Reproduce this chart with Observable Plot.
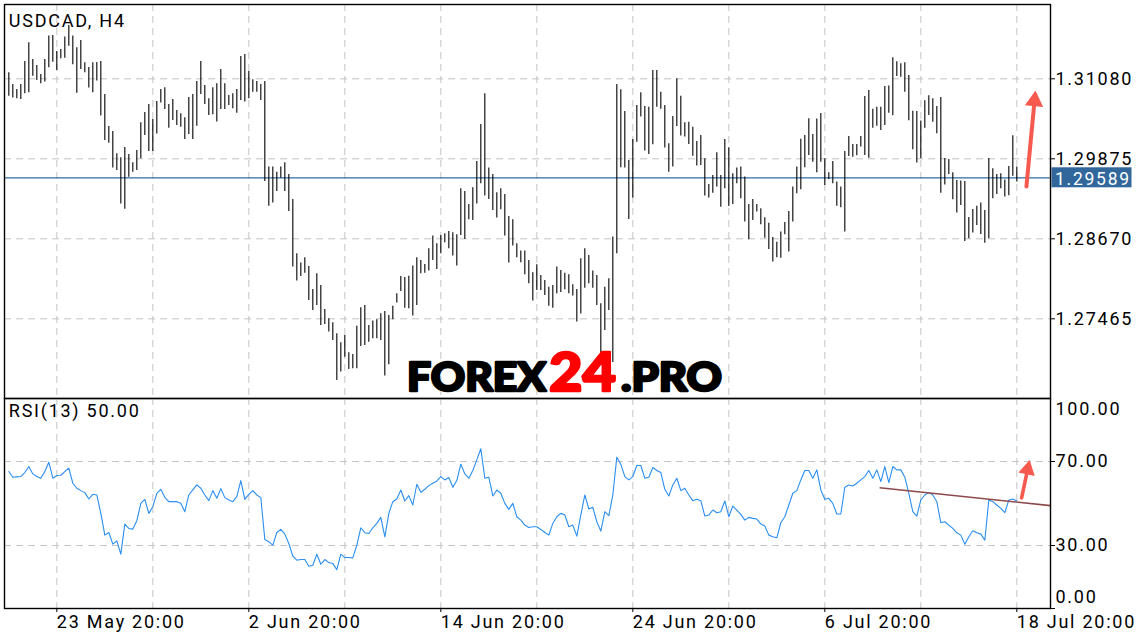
<!DOCTYPE html>
<html><head><meta charset="utf-8">
<script src="https://cdn.jsdelivr.net/npm/d3@7"></script>
<script src="https://cdn.jsdelivr.net/npm/@observablehq/plot@0.6"></script>
<style>
html,body{margin:0;padding:0;background:#fff;overflow:hidden;}
#chart{position:relative;width:1136px;height:640px;}
#chart svg{position:absolute;left:0;}
</style></head><body><div id="chart"></div>
<script>
const symbolName = "USDCAD, H4";
const rsiTitle = "RSI(13) 50.00";
const highs = [
1.31170,1.30995,1.30919,1.30995,1.31341,1.31622,1.31371,1.31281,1.31145,1.31371,
1.31723,1.31733,1.31492,1.31522,1.31708,1.31883,1.31723,1.31547,1.31657,1.31321,
1.31251,1.31321,1.31326,1.31341,1.30844,1.30362,1.30287,1.29951,1.29890,1.30046,
1.29941,1.29815,1.30001,1.30417,1.30573,1.30694,1.30468,1.30739,1.30919,1.30945,
1.30694,1.30769,1.30603,1.30553,1.30493,1.30799,1.30844,1.31040,1.31341,1.30980,
1.30779,1.30945,1.31005,1.31221,1.31005,1.30829,1.30854,1.30919,1.31416,1.31447,
1.31191,1.31065,1.31040,1.30995,1.31040,1.29750,1.29750,1.29674,1.29750,1.29815,
1.29639,1.29263,1.28445,1.28304,1.28384,1.28254,1.27907,1.28143,1.27968,1.27606,
1.27466,1.27405,1.27240,1.27104,1.27215,1.26954,1.26929,1.27355,1.27631,1.27667,
1.27365,1.27431,1.27451,1.27541,1.27576,1.27516,1.27656,1.27842,1.28103,1.28088,
1.28108,1.28259,1.28384,1.28344,1.28284,1.28520,1.28711,1.28595,1.28721,1.28746,
1.28781,1.28761,1.28731,1.29424,1.29383,1.29188,1.29439,1.29835,1.30392,1.30854,
1.29735,1.29639,1.29363,1.29424,1.29338,1.29007,1.28957,1.28595,1.28485,1.28485,
1.28344,1.28158,1.28279,1.28118,1.28043,1.27942,1.27968,1.28244,1.28194,1.28153,
1.28128,1.27978,1.27907,1.28369,1.28520,1.28419,1.28184,1.28118,1.27692,1.27942,
1.28068,1.28696,1.30995,1.30914,1.30588,1.29850,1.30166,1.30679,1.30869,1.30663,
1.30653,1.31206,1.31206,1.30879,1.30679,1.30101,1.30513,1.31080,1.30819,1.30417,
1.30427,1.30352,1.30136,1.30227,1.29875,1.29489,1.29624,1.29966,1.29624,1.30166,
1.30041,1.29649,1.29735,1.29750,1.29600,1.29188,1.29263,1.29188,1.29122,1.28987,
1.28906,1.28691,1.28620,1.28771,1.28916,1.29082,1.29449,1.29750,1.30171,1.30227,
1.30478,1.30242,1.30473,1.30558,1.29875,1.29664,1.29835,1.29524,1.29449,1.29986,
1.30212,1.30091,1.30091,1.30212,1.30814,1.30904,1.30623,1.30653,1.30653,1.30965,
1.30970,1.31396,1.31336,1.31306,1.31321,1.31130,1.30593,1.30588,1.30443,1.30749,
1.30824,1.30779,1.30663,1.30799,1.29880,1.29865,1.29664,1.29549,1.29539,1.29534,
1.28992,1.29112,1.29162,1.29208,1.29097,1.29880,1.29725,1.29639,1.29649,1.29554,
1.29760,1.30222,1.29748];
const lows = [
1.30819,1.30789,1.30779,1.30769,1.30854,1.30869,1.31120,1.31055,1.31005,1.31030,
1.31246,1.31331,1.31206,1.31381,1.31391,1.31572,1.31291,1.30864,1.31221,1.31170,
1.30940,1.30869,1.31045,1.30518,1.30152,1.30111,1.29735,1.29700,1.29193,1.29117,
1.29599,1.29674,1.29700,1.29875,1.30227,1.29986,1.29986,1.30247,1.30714,1.30618,
1.30337,1.30453,1.30377,1.30352,1.30166,1.30242,1.30166,1.30367,1.30844,1.30694,
1.30528,1.30538,1.30428,1.30618,1.30618,1.30679,1.30628,1.30563,1.30754,1.30729,
1.30779,1.30879,1.30879,1.30754,1.29534,1.29162,1.29208,1.29383,1.29584,1.29383,
1.29082,1.28244,1.28033,1.28103,1.28153,1.27742,1.27591,1.27667,1.27365,1.27380,
1.27265,1.27139,1.26537,1.26663,1.26888,1.26703,1.26713,1.26713,1.27049,1.27064,
1.27114,1.27165,1.27165,1.27139,1.26602,1.26773,1.27451,1.27702,1.27877,1.27626,
1.27616,1.27506,1.27667,1.28143,1.28153,1.28184,1.28344,1.28209,1.28445,1.28610,
1.28520,1.28410,1.28259,1.28721,1.28660,1.28957,1.28947,1.29193,1.29499,1.29313,
1.29263,1.29097,1.28982,1.29107,1.28711,1.28304,1.28560,1.28384,1.28309,1.28128,
1.27993,1.27732,1.27892,1.27892,1.27817,1.27656,1.27626,1.27842,1.27862,1.27902,
1.27842,1.27807,1.27416,1.27536,1.27927,1.27993,1.27927,1.27667,1.26914,1.27290,
1.27591,1.26808,1.28445,1.29740,1.29735,1.28962,1.29283,1.30126,1.30503,1.29991,
1.29941,1.30086,1.30653,1.30623,1.30036,1.29674,1.29750,1.30362,1.30217,1.30202,
1.30091,1.29915,1.29765,1.29775,1.29313,1.29283,1.29358,1.29449,1.29147,1.29424,
1.29157,1.29188,1.29499,1.29273,1.28922,1.28655,1.28947,1.29072,1.28881,1.28680,
1.28510,1.28319,1.28384,1.28379,1.28731,1.28470,1.28922,1.29348,1.29408,1.29740,
1.29926,1.29825,1.29664,1.29825,1.29474,1.29564,1.29499,1.29162,1.29137,1.28771,
1.29910,1.29900,1.29920,1.30051,1.29926,1.29885,1.30337,1.30367,1.30302,1.30377,
1.30563,1.30523,1.31115,1.31105,1.30879,1.30448,1.30011,1.29810,1.29875,1.30337,
1.30528,1.30427,1.30252,1.29358,1.29479,1.29639,1.29258,1.29057,1.29173,1.28630,
1.28670,1.28756,1.28871,1.28736,1.28605,1.28670,1.29273,1.29338,1.29424,1.29298,
1.29318,1.29614,1.29524];
const rsi = [
65.22,62.51,62.67,62.83,64.74,67.61,64.10,62.83,62.03,65.22,
69.68,62.03,63.30,63.46,65.22,66.81,59.64,57.25,56.13,55.18,
52.15,54.38,54.06,45.30,34.94,36.21,30.64,32.23,25.86,40.20,
38.13,37.81,41.79,50.08,51.99,45.30,48.49,54.86,56.77,52.95,
50.87,50.87,50.87,50.08,46.10,54.06,56.45,58.84,57.25,54.06,
51.35,56.13,52.47,57.09,52.79,51.67,50.87,53.27,60.92,51.99,
54.38,56.13,54.06,52.79,32.87,31.75,30.16,36.21,37.65,35.42,
30.96,24.90,22.99,23.31,23.31,20.12,20.60,25.86,21.07,23.31,
21.87,21.39,18.53,25.86,24.26,24.26,24.10,30.16,38.45,36.06,
35.74,38.45,40.52,43.39,34.14,45.30,50.87,52.15,56.45,51.19,
53.74,49.28,59.16,55.34,56.77,58.52,59.64,60.76,62.83,61.23,
62.35,57.73,60.92,68.72,64.10,62.03,65.70,70.80,76.05,62.03,
62.51,53.59,56.45,54.86,50.08,47.21,50.08,43.70,42.11,39.72,
38.61,38.92,38.92,37.65,36.21,34.94,40.52,43.70,45.30,44.50,
38.92,39.72,34.46,44.50,54.06,47.37,48.17,41.31,36.85,46.10,
44.18,54.06,72.07,68.72,62.83,61.23,62.83,68.09,68.09,62.03,
62.51,67.13,65.70,64.74,56.77,53.59,58.84,62.03,56.13,57.25,
54.06,51.35,51.99,51.35,44.02,44.50,46.89,45.62,46.10,51.19,
43.70,48.80,46.89,44.82,42.11,43.39,42.91,42.59,40.20,39.24,
34.94,34.14,33.66,40.84,43.70,49.28,54.86,56.13,61.23,65.70,
65.70,62.03,66.01,56.45,51.99,52.47,50.08,44.98,44.98,57.73,
58.84,58.36,59.64,61.23,62.83,65.70,62.03,66.01,60.44,67.61,
59.96,67.61,66.01,66.01,62.51,54.86,46.10,44.02,51.67,54.06,
55.18,54.06,50.87,40.84,41.31,39.72,38.13,36.06,34.94,30.64,
34.14,37.01,36.06,35.42,32.55,51.67,50.87,49.28,47.69,45.62,
51.67,52.15,51.19];
const priceTicks = [1.27465, 1.28670, 1.29875, 1.31080];
const currentPrice = 1.29589;
const rsiLevels = [30, 70];
const rsiEdgeTop = [100];
const rsiEdgeBottom = [0];
const gridBars = [13, 37, 61, 85, 109, 133, 157, 181, 205, 229, 253];
const dateTickBars = [13, 61, 109, 157, 205, 253];
const dateLabels = ["23 May 20:00", "2 Jun 20:00", "14 Jun 20:00", "24 Jun 20:00", "6 Jul 20:00", "18 Jul 20:00"];
const rsiTrend = [{x1: 218.7, y1: 57.5, x2: 261.4, y2: 49.0}];
const priceArrow = [{x1: 255.4, y1: 1.29458, x2: 257.42, y2: 1.30746}];
const rsiArrow = [{x1: 254.2, y1: 52.7, x2: 255.7, y2: 66.2}];
const watermark = [["FOREX", "#000"], ["24", "#ff0000"], [".PRO", "#000"]];

const bars = highs.map((h, i) => ({bar: i + 1, high: h, low: lows[i]}));
const rsiPts = rsi.map((v, i) => ({bar: i + 1, v}));

const xDomain = [-0.08, 261.42];
const gridStyle = {stroke: "#c4c4c4", strokeOpacity: 1, strokeDasharray: "7,5"};
const fontStyle = {fontFamily: "Roboto, 'Helvetica Neue', Arial, sans-serif", fontSize: "18px", letterSpacing: "1.75px", background: "transparent", color: "#000"};
const arrowRed = "#f65a4e";
const fmt5 = d3.format(".5f"), fmt2 = d3.format(".2f");

function priceTag(index, scales, values, dims) {
  const y = scales.y(currentPrice);
  const x0 = dims.width - dims.marginRight;
  const g = d3.create("svg:g");
  g.append("rect").attr("x", x0 + 1.5).attr("y", y - 10).attr("width", 80).attr("height", 20).attr("fill", "#31679b");
  g.append("text").attr("x", x0 + 5).attr("y", y).attr("dy", "0.42em").attr("fill", "#fff")
    .attr("font-size", 17.5).attr("text-anchor", "start").text(fmt5(currentPrice));
  return g.node();
}

const main = Plot.plot({
  width: 1136, height: 400, marginLeft: 4, marginRight: 86, marginTop: 4, marginBottom: 2,
  style: fontStyle,
  x: {domain: xDomain, axis: null},
  y: {domain: [1.26265, 1.32199], axis: null},
  marks: [
    Plot.gridX(gridBars, gridStyle),
    Plot.gridY(priceTicks, gridStyle),
    Plot.ruleY([currentPrice], {stroke: "#2f6aa2", strokeWidth: 1.2}),
    Plot.ruleX(bars, {x: "bar", y1: "low", y2: "high", stroke: "#000", strokeWidth: 1.1}),
    Plot.axisY(priceTicks, {anchor: "right", tickSize: 4, tickPadding: 1, tickFormat: fmt5, stroke: "#000"}),
    priceTag,
    Plot.frame({stroke: "#000", strokeWidth: 1.4}),
    Plot.link(priceArrow, {x1: "x1", y1: "y1", x2: "x2", y2: "y2", stroke: arrowRed, strokeWidth: 4, strokeLinecap: "round"}),
    Plot.dot(priceArrow, {x: "x2", y: "y2", symbol: "triangle", r: 6.8, fill: arrowRed, rotate: 5.5}),
    Plot.text([symbolName], {frameAnchor: "top-left", dx: 4.3, dy: 9.3, lineAnchor: "top", textAnchor: "start", text: d => d, fill: "#000"})
  ]
});
main.style.top = "0px";

const rsiPlot = Plot.plot({
  width: 1136, height: 243, marginLeft: 4, marginRight: 86, marginTop: 1, marginBottom: 32,
  style: fontStyle,
  x: {domain: xDomain, axis: null},
  y: {domain: [0, 100], axis: null},
  marks: [
    Plot.gridX(gridBars, gridStyle),
    Plot.gridY(rsiLevels, gridStyle),
    Plot.line(rsiPts, {x: "bar", y: "v", stroke: "#2a8ef0", strokeWidth: 1.1}),
    Plot.link(rsiTrend, {x1: "x1", y1: "y1", x2: "x2", y2: "y2", stroke: "#8e4a4a", strokeWidth: 1.6}),
    Plot.axisY([0, ...rsiLevels], {anchor: "right", tickSize: 4, tickPadding: 1, tickFormat: d => d === 0 ? "" : fmt2(d), stroke: "#000"}),
    Plot.text(rsiEdgeTop, {y: d => d, frameAnchor: "right", dx: 5, dy: 11, textAnchor: "start", text: d => fmt2(d), fill: "#000"}),
    Plot.text(rsiEdgeBottom, {y: d => d, frameAnchor: "right", dx: 5, dy: -11, textAnchor: "start", text: d => fmt2(d), fill: "#000"}),
    Plot.axisX(dateTickBars, {anchor: "bottom", tickSize: 4, tickPadding: 3, textAnchor: "start", tickFormat: d => dateLabels[dateTickBars.indexOf(d)], stroke: "#000"}),
    Plot.frame({stroke: "#000", strokeWidth: 1.4}),
    Plot.link(rsiArrow, {x1: "x1", y1: "y1", x2: "x2", y2: "y2", stroke: arrowRed, strokeWidth: 3.6, strokeLinecap: "round"}),
    Plot.dot(rsiArrow, {x: "x2", y: "y2", symbol: "triangle", r: 6.2, fill: arrowRed, rotate: 12.3}),
    Plot.text([rsiTitle], {frameAnchor: "top-left", dx: 4.3, dy: 5.3, lineAnchor: "top", textAnchor: "start", text: d => d, fill: "#000"})
  ]
});
rsiPlot.style.top = "397px";

const chart = document.getElementById("chart");
chart.appendChild(main);
chart.appendChild(rsiPlot);

// watermark overlay (real text)
const wm = d3.create("svg").attr("width", 1136).attr("height", 640)
  .style("position", "absolute").style("left", "0px").style("top", "0px").style("pointer-events", "none");
const wmText = wm.append("text").attr("font-family", "Lato, 'DejaVu Sans', sans-serif").attr("font-weight", 900).attr("y", 391);
const wmLayout = [{x: 407, len: 139, size: 39}, {x: 549, len: 67, size: 54}, {x: 621, len: 101, size: 39}];
watermark.forEach(([t, c], i) => {
  wmText.append("tspan").attr("x", wmLayout[i].x).attr("y", 391).attr("font-size", wmLayout[i].size)
    .attr("textLength", wmLayout[i].len).attr("lengthAdjust", "spacingAndGlyphs")
    .attr("fill", c).attr("stroke", c).attr("stroke-width", 2.4).attr("stroke-linejoin", "round").text(t);
});
chart.appendChild(wm.node());
</script></body></html>
